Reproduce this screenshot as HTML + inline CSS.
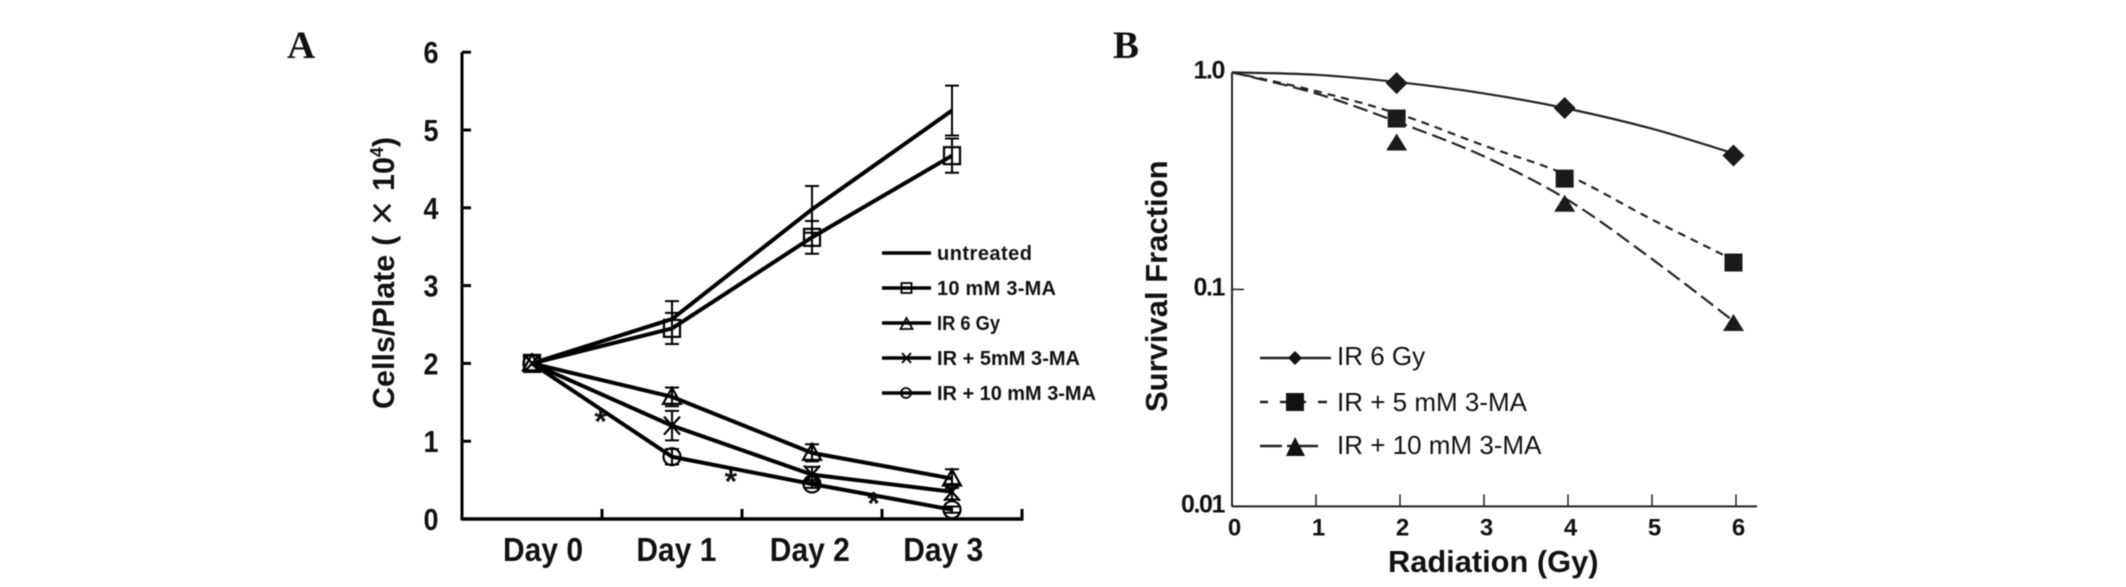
<!DOCTYPE html>
<html>
<head>
<meta charset="utf-8">
<title>Cell growth and survival fraction charts</title>
<style>
html,body{margin:0;padding:0;background:#fff;width:2126px;height:587px;overflow:hidden}
svg{display:block;filter:blur(0.5px)}
text{font-family:"Liberation Sans","Noto Sans CJK SC",sans-serif;fill:#111}
.b{font-weight:bold}
</style>
</head>
<body>
<svg id="fig" width="2126" height="587" viewBox="0 0 2126 587" xmlns="http://www.w3.org/2000/svg">
<g id="panelA">
<text x="287" y="58" style="font-family:'Liberation Serif',serif;font-weight:bold;font-size:39px">A</text>
<text class="b" transform="translate(394,409) rotate(-90)" font-size="30.5">Cells/Plate<tspan dx="9">(</tspan><tspan dx="10" font-weight="normal" font-size="42" dy="2">×</tspan><tspan dx="10" dy="-2">10</tspan><tspan font-size="18" dy="-11">4</tspan><tspan dy="11">)</tspan></text>
<g font-size="20">
<g>
<line x1="882" x2="931" y1="253" y2="253" stroke="#000" stroke-width="3.5"/>
<text class="b" x="937" y="260" textLength="95" lengthAdjust="spacing">untreated</text>
</g>
<g>
<line x1="882" x2="931" y1="288" y2="288" stroke="#000" stroke-width="3.5"/>
<rect x="901.500" y="283" width="10" height="10" fill="none" stroke="#000" stroke-width="1.8"/>
<text class="b" x="937" y="295" textLength="119" lengthAdjust="spacing">10 mM 3-MA</text>
</g>
<g>
<line x1="882" x2="931" y1="323" y2="323" stroke="#000" stroke-width="3.5"/>
<polygon points="906.500,318 912.500,329 900.500,329" fill="none" stroke="#000" stroke-width="1.8"/>
<text class="b" x="937" y="330" textLength="63" lengthAdjust="spacingAndGlyphs">IR 6 Gy</text>
</g>
<g>
<line x1="882" x2="931" y1="358" y2="358" stroke="#000" stroke-width="3.5"/>
<path d="M902 353 L911 363 M911 353 L902 363" fill="none" stroke="#000" stroke-width="1.8"/>
<text class="b" x="937" y="365" textLength="143" lengthAdjust="spacing">IR + 5mM 3-MA</text>
</g>
<g>
<line x1="882" x2="931" y1="393" y2="393" stroke="#000" stroke-width="3.5"/>
<circle cx="906" cy="393" r="5" fill="none" stroke="#000" stroke-width="1.8"/>
<text class="b" x="937" y="400" textLength="159" lengthAdjust="spacing">IR + 10 mM 3-MA</text>
</g>
</g>
</g>
<g id="panelB">
<text x="1113" y="58" style="font-family:'Liberation Serif',serif;font-weight:bold;font-size:39px">B</text>
<text class="b" transform="translate(1167,412) rotate(-90)" font-size="31">Survival Fraction</text>
<text class="b" x="1388" y="572" font-size="30.800">Radiation (Gy)</text>
<g font-size="26" style="fill:#222">
<g>
<line x1="1260" x2="1331" y1="358" y2="358" stroke="#222" stroke-width="2.500"/>
<polygon points="1295,351 1302,358 1295,365 1288,358" fill="#111"/>
<text x="1337" y="365">IR 6 Gy</text>
</g>
<g>
<line x1="1260" x2="1268" y1="402" y2="402" stroke="#222" stroke-width="2.500"/>
<line x1="1280" x2="1306" y1="402" y2="402" stroke="#222" stroke-width="2.500"/>
<line x1="1318" x2="1327" y1="402" y2="402" stroke="#222" stroke-width="2.500"/>
<rect x="1286" y="393" width="18" height="18" fill="#111"/>
<text x="1337" y="411">IR + 5 mM 3-MA</text>
</g>
<g>
<line x1="1260" x2="1282" y1="446" y2="446" stroke="#222" stroke-width="2.500"/>
<line x1="1287" x2="1318" y1="446" y2="446" stroke="#222" stroke-width="2.500"/>
<polygon points="1295,437 1305,456 1286,456" fill="#111"/>
<text x="1337" y="454">IR + 10 mM 3-MA</text>
</g>
</g>
</g>
</svg>
<script>
// Panel A data
var dayLabels = ['Day 0', 'Day 1', 'Day 2', 'Day 3'];
var cellTicks = [0, 1, 2, 3, 4, 5, 6];
var untreatedValues = [2, 2.57, 3.98, 5.25];
var untreatedErrors = [0, 0.23, 0.3, 0.32];
var tenMmValues = [2, 2.45, 3.62, 4.67];
var tenMmErrors = [0, 0.2, 0.21, 0.22];
var irValues = [2, 1.57, 0.85, 0.52];
var irErrors = [0, 0.12, 0.11, 0.12];
var irFiveValues = [2, 1.2, 0.57, 0.35];
var irFiveErrors = [0, 0.19, 0.1, 0.1];
var irTenValues = [2, 0.8, 0.45, 0.12];
var irTenErrors = [0, 0.1, 0.05, 0.04];
var starDays = [0.49, 1.42, 2.44];
var starValues = [1.29, 0.52, 0.24];

// Panel B data
var radiationTicks = [0, 1, 2, 3, 4, 5, 6];
var survivalTicks = [1, 0.1, 0.01];
var survivalTickLabels = ['1.0', '0.1', '0.01'];
var doseMarks = [1.96, 3.96, 5.97];
var ir6Marks = [0.893, 0.685, 0.414];
var ir5mmMarks = [0.613, 0.324, 0.133];
var ir10mmMarks = [0.475, 0.248, 0.07];
var curveDoses = [0, 1, 2, 3, 4, 5, 6];
var ir6Curve = [1, 0.975, 0.9, 0.8, 0.68, 0.55, 0.42];
var ir5mmCurve = [1, 0.82, 0.64, 0.46, 0.335, 0.21, 0.135];
var ir10mmCurve = [1, 0.8, 0.585, 0.41, 0.258, 0.138, 0.07];

var SVGNS = 'http://www.w3.org/2000/svg';
var panelA = document.getElementById('panelA');
var panelB = document.getElementById('panelB');

function make(parent, tag, attrs, name) {
  var e = document.createElementNS(SVGNS, tag);
  for (var k in attrs) e.setAttribute(k, attrs[k]);
  
  
  parent.appendChild(e);
  return e;
}

// Panel A axes
function xA(d) { return 532 + 140 * d; }
function yA(v) { return 519 - 77.8 * v; }

make(panelA, 'line', {x1: xA(-0.5), x2: xA(-0.5), y1: yA(6), y2: yA(0) + 1.5, stroke: '#000', 'stroke-width': 3}, 'y-axis-a');
make(panelA, 'line', {x1: xA(-0.5), x2: xA(3.5) + 1.5, y1: yA(0), y2: yA(0), stroke: '#000', 'stroke-width': 3.5}, 'x-axis-a');

cellTicks.forEach(function (t) {
  make(panelA, 'line', {x1: xA(-0.5), x2: xA(-0.5) + 9, y1: yA(t), y2: yA(t), stroke: '#000', 'stroke-width': 3}, 'y-tick-a');
  var lbl = make(panelA, 'text', {x: 431, y: yA(t) + 11, 'text-anchor': 'middle', 'font-size': 31, class: 'b', textLength: 15, lengthAdjust: 'spacingAndGlyphs'}, 'y-tick-label-a');
  lbl.textContent = t;
});

dayLabels.forEach(function (d, i) {
  make(panelA, 'line', {x1: xA(i + 0.5), x2: xA(i + 0.5), y1: yA(0), y2: yA(0) - 10, stroke: '#000', 'stroke-width': 3}, 'x-tick-a');
  var lbl = make(panelA, 'text', {x: 543 + 133.4 * i, y: 561, 'text-anchor': 'middle', 'font-size': 33, class: 'b', textLength: 80, lengthAdjust: 'spacingAndGlyphs'}, 'x-tick-label-a');
  lbl.textContent = d;
});

function drawMarker(g, kind, cx, cy, name) {
  var style = {fill: 'none', stroke: '#000', 'stroke-width': 2.2};
  var a;
  if (kind === 'square') {
    a = Object.assign({x: cx - 8, y: cy - 8.5, width: 16, height: 17}, style);
    make(g, 'rect', a, name);
  } else if (kind === 'triangle') {
    a = Object.assign({points: cx + ',' + (cy - 9) + ' ' + (cx + 9) + ',' + (cy + 7) + ' ' + (cx - 9) + ',' + (cy + 7)}, style);
    make(g, 'polygon', a, name);
  } else if (kind === 'cross') {
    a = Object.assign({d: 'M' + (cx - 8) + ' ' + (cy - 9) + 'L' + (cx + 8) + ' ' + (cy + 9) + 'M' + (cx + 8) + ' ' + (cy - 9) + 'L' + (cx - 8) + ' ' + (cy + 9)}, style);
    make(g, 'path', a, name);
  } else if (kind === 'circle') {
    a = Object.assign({cx: cx, cy: cy, r: 8.5}, style);
    make(g, 'circle', a, name);
  }
}

function drawSeriesA(name, values, errors, kind) {
  var g = make(panelA, 'g', {}, 'series-' + name);
  var pts = values.map(function (v, i) { return xA(i) + ',' + yA(v); }).join(' ');
  make(g, 'polyline', {points: pts, fill: 'none', stroke: '#000', 'stroke-width': 4, 'stroke-linejoin': 'round'}, 'line-' + name);
  values.forEach(function (v, i) {
    var x = xA(i);
    if (errors[i] > 0) {
      var top = yA(v + errors[i]);
      var bot = yA(v - errors[i]);
      make(g, 'path', {d: 'M' + x + ' ' + top + 'V' + bot + 'M' + (x - 7) + ' ' + top + 'H' + (x + 7) + 'M' + (x - 7) + ' ' + bot + 'H' + (x + 7), fill: 'none', stroke: '#000', 'stroke-width': 2}, 'error-bar-' + name);
    }
    drawMarker(g, kind, x, yA(v), 'point-' + name);
  });
}

drawSeriesA('untreated', untreatedValues, untreatedErrors, 'none');
drawSeriesA('10mm-3ma', tenMmValues, tenMmErrors, 'square');
drawSeriesA('ir-6gy', irValues, irErrors, 'triangle');
drawSeriesA('ir-5mm-3ma', irFiveValues, irFiveErrors, 'cross');
drawSeriesA('ir-10mm-3ma', irTenValues, irTenErrors, 'circle');

starDays.forEach(function (d, i) {
  var s = make(panelA, 'text', {x: xA(d), y: yA(starValues[i]) + 14, 'text-anchor': 'middle', 'font-size': 32, class: 'b'}, 'significance-asterisk');
  s.textContent = '*';
});

// Panel B axes
function xB(d) { return 1232 + 84 * d; }
function yB(s) { return 72.4 - 217 * (Math.log(s) / Math.LN10); }

make(panelB, 'line', {x1: xB(0), x2: xB(0), y1: yB(1), y2: yB(0.01), stroke: '#222', 'stroke-width': 2}, 'y-axis-b');
make(panelB, 'line', {x1: xB(0), x2: 1757, y1: yB(0.01), y2: yB(0.01), stroke: '#222', 'stroke-width': 2}, 'x-axis-b');

radiationTicks.forEach(function (t) {
  if (t > 0) {
    make(panelB, 'line', {x1: xB(t), x2: xB(t), y1: yB(0.01), y2: yB(0.01) - 12, stroke: '#222', 'stroke-width': 1.5}, 'x-tick-b');
  }
  var lbl = make(panelB, 'text', {x: xB(t) + 2.5, y: 535.5, 'text-anchor': 'middle', 'font-size': 24, class: 'b'}, 'x-tick-label-b');
  lbl.textContent = t;
});

survivalTicks.forEach(function (t, i) {
  make(panelB, 'line', {x1: xB(0), x2: xB(0) + 12, y1: yB(t), y2: yB(t), stroke: '#222', 'stroke-width': 1.5}, 'y-tick-b');
  var lbl = make(panelB, 'text', {x: 1224, y: yB(t) + 6, 'text-anchor': 'end', 'font-size': 25, class: 'b', 'letter-spacing': -1.4}, 'y-tick-label-b');
  lbl.textContent = survivalTickLabels[i];
});

function smoothPath(xs, ys) {
  var px = xs.map(xB);
  var py = ys.map(yB);
  var d = 'M' + px[0] + ' ' + py[0];
  for (var i = 0; i < px.length - 1; i++) {
    var p0 = Math.max(i - 1, 0);
    var p3 = Math.min(i + 2, px.length - 1);
    var c1x = px[i] + (px[i + 1] - px[p0]) / 6;
    var c1y = py[i] + (py[i + 1] - py[p0]) / 6;
    var c2x = px[i + 1] - (px[p3] - px[i]) / 6;
    var c2y = py[i + 1] - (py[p3] - py[i]) / 6;
    d += 'C' + c1x + ' ' + c1y + ' ' + c2x + ' ' + c2y + ' ' + px[i + 1] + ' ' + py[i + 1];
  }
  return d;
}

function drawSeriesB(name, curve, marks, dash, kind) {
  var g = make(panelB, 'g', {}, 'series-b-' + name);
  var attrs = {d: smoothPath(curveDoses, curve), fill: 'none', stroke: '#222', 'stroke-width': 2.2};
  if (dash) attrs['stroke-dasharray'] = dash;
  make(g, 'path', attrs, 'curve-' + name);
  marks.forEach(function (v, i) {
    var cx = xB(doseMarks[i]);
    var cy = yB(v);
    if (kind === 'diamond') {
      make(g, 'polygon', {points: cx + ',' + (cy - 11) + ' ' + (cx + 11) + ',' + cy + ' ' + cx + ',' + (cy + 11) + ' ' + (cx - 11) + ',' + cy, fill: '#1a1a1a'}, 'point-' + name);
    } else if (kind === 'square') {
      make(g, 'rect', {x: cx - 9, y: cy - 9, width: 18, height: 18, fill: '#1a1a1a'}, 'point-' + name);
    } else {
      make(g, 'polygon', {points: cx + ',' + (cy - 9) + ' ' + (cx + 10.5) + ',' + (cy + 8) + ' ' + (cx - 10.5) + ',' + (cy + 8), fill: '#1a1a1a'}, 'point-' + name);
    }
  });
}

drawSeriesB('ir-6-gy', ir6Curve, ir6Marks, null, 'diamond');
drawSeriesB('ir-5-mm', ir5mmCurve, ir5mmMarks, '8 6', 'square');
drawSeriesB('ir-10-mm', ir10mmCurve, ir10mmMarks, '15 6', 'triangle');
</script>
</body>
</html>
